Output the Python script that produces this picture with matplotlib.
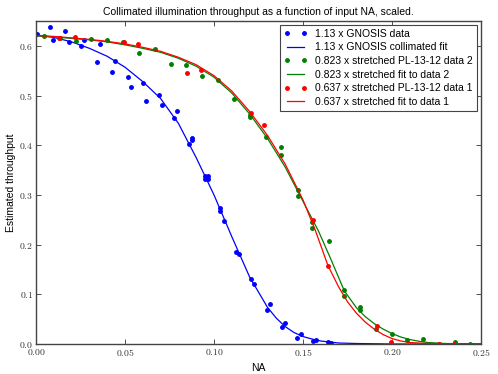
import matplotlib
matplotlib.use("Agg")
import matplotlib.pyplot as plt

# 1.13 x GNOSIS data (blue)
gnosis_na = [0.0007, 0.0079, 0.0096, 0.0165, 0.0184, 0.0253, 0.0271, 0.0341, 0.0358,
             0.0427, 0.0446, 0.0515, 0.0532, 0.0601, 0.0618, 0.0689, 0.0706, 0.0774,
             0.0792, 0.0861, 0.0878, 0.0878, 0.0949, 0.0966, 0.0949, 0.0966, 0.1036,
             0.1036, 0.1054, 0.1124, 0.1140, 0.1208, 0.1225, 0.1296, 0.1313, 0.1384,
             0.1401, 0.1468, 0.1487, 0.1556, 0.1573, 0.1640, 0.1660]
gnosis_tp = [0.624, 0.637, 0.611, 0.629, 0.608, 0.600, 0.611, 0.568, 0.603,
             0.547, 0.569, 0.537, 0.518, 0.525, 0.490, 0.502, 0.481, 0.455,
             0.468, 0.403, 0.414, 0.410, 0.339, 0.339, 0.333, 0.333, 0.273,
             0.267, 0.247, 0.186, 0.181, 0.130, 0.120, 0.069, 0.081, 0.035,
             0.043, 0.012, 0.020, 0.007, 0.009, 0.005, 0.003]

# 1.13 x GNOSIS collimated fit
gnosis_fit_na = [0.0, 0.01, 0.02, 0.03, 0.04, 0.05, 0.06, 0.07, 0.08, 0.09, 0.10,
                 0.11, 0.12, 0.13, 0.135, 0.14, 0.145, 0.15, 0.155, 0.16, 0.17,
                 0.18, 0.20, 0.25]
gnosis_fit_tp = [0.622, 0.617, 0.608, 0.595, 0.579, 0.557, 0.528, 0.494, 0.444,
                 0.375, 0.300, 0.216, 0.135, 0.074, 0.052, 0.035, 0.023, 0.015,
                 0.010, 0.006, 0.002, 0.001, 0.0, 0.0]

# 0.823 x stretched PL-13-12 data 2 (green)
pl2_na = [0.0045, 0.0133, 0.0225, 0.0309, 0.0400, 0.0489, 0.0581, 0.0666, 0.0757,
          0.0844, 0.0935, 0.1020, 0.1112, 0.1200, 0.1200, 0.1290, 0.1376, 0.1376,
          0.1470, 0.1470, 0.1550, 0.1550, 0.1647, 0.1732, 0.1732, 0.1822, 0.1822,
          0.1910, 0.2001, 0.2085, 0.2176, 0.2262, 0.2354, 0.2438]
pl2_tp = [0.620, 0.615, 0.610, 0.614, 0.611, 0.607, 0.586, 0.593, 0.564,
          0.561, 0.539, 0.532, 0.494, 0.461, 0.457, 0.416, 0.396, 0.381,
          0.309, 0.297, 0.246, 0.234, 0.208, 0.109, 0.097, 0.075, 0.068,
          0.031, 0.021, 0.008, 0.010, 0.001, 0.005, 0.000]

# 0.823 x stretched fit to data 2
pl2_fit_na = [0.0, 0.01, 0.02, 0.03, 0.04, 0.05, 0.06, 0.07, 0.08, 0.09, 0.10,
              0.11, 0.12, 0.13, 0.14, 0.15, 0.1586, 0.165, 0.17, 0.1732, 0.18,
              0.185, 0.19, 0.195, 0.20, 0.205, 0.21, 0.216, 0.22, 0.23, 0.25]
pl2_fit_tp = [0.620, 0.618, 0.615, 0.612, 0.608, 0.602, 0.595, 0.587, 0.575,
              0.559, 0.537, 0.505, 0.463, 0.414, 0.356, 0.287, 0.228, 0.176,
              0.134, 0.107, 0.073, 0.055, 0.041, 0.030, 0.021, 0.014, 0.009,
              0.005, 0.003, 0.001, 0.0]

# 0.637 x stretched PL-13-12 data 1 (red)
pl1_na = [0.0131, 0.0219, 0.0492, 0.0571, 0.0850, 0.0927, 0.1206, 0.1280, 0.1558,
          0.1639, 0.1916, 0.1994, 0.2266, 0.2348]
pl1_tp = [0.615, 0.617, 0.607, 0.603, 0.545, 0.552, 0.465, 0.440, 0.249,
          0.156, 0.037, 0.005, 0.001, 0.000]

# 0.637 x stretched fit to data 1
pl1_fit_na = [0.0, 0.01, 0.02, 0.03, 0.04, 0.05, 0.06, 0.07, 0.08, 0.09, 0.10,
              0.11, 0.12, 0.13, 0.14, 0.15, 0.157, 0.164, 0.17, 0.175, 0.18,
              0.185, 0.19, 0.195, 0.20, 0.205, 0.21, 0.22, 0.25]
pl1_fit_tp = [0.621, 0.619, 0.616, 0.613, 0.609, 0.604, 0.597, 0.589, 0.577,
              0.562, 0.540, 0.509, 0.468, 0.420, 0.362, 0.290, 0.228, 0.158,
              0.115, 0.085, 0.062, 0.044, 0.030, 0.019, 0.011, 0.006, 0.003,
              0.001, 0.0]

x_ticks = [0.00, 0.05, 0.10, 0.15, 0.20, 0.25]
y_ticks = [0.0, 0.1, 0.2, 0.3, 0.4, 0.5, 0.6]

plt.rcParams['font.family'] = ['Liberation Sans', 'DejaVu Sans']
plt.rcParams['mathtext.fontset'] = 'cm'
plt.rcParams['xtick.direction'] = 'in'
plt.rcParams['ytick.direction'] = 'in'
plt.rcParams['xtick.top'] = True
plt.rcParams['ytick.right'] = True

fig = plt.figure(figsize=(4.98, 3.74), dpi=100)
ax = fig.add_axes([36 / 498, 30 / 374, 445 / 498, 323 / 374])

blue, green, red = (0, 0, 1), (0, 0.5, 0), (1, 0, 0)
ax.plot(gnosis_na, gnosis_tp, '.', color=blue, ms=5, label="1.13 x GNOSIS data")
ax.plot(gnosis_fit_na, gnosis_fit_tp, '-', color=blue, lw=0.9,
        label="1.13 x GNOSIS collimated fit")
ax.plot(pl2_na, pl2_tp, '.', color=green, ms=5,
        label="0.823 x stretched PL-13-12 data 2")
ax.plot(pl2_fit_na, pl2_fit_tp, '-', color=green, lw=0.9,
        label="0.823 x stretched fit to data 2")
ax.plot(pl1_na, pl1_tp, '.', color=red, ms=5,
        label="0.637 x stretched PL-13-12 data 1")
ax.plot(pl1_fit_na, pl1_fit_tp, '-', color=red, lw=0.9,
        label="0.637 x stretched fit to data 1")

ax.set_xlim(0, 0.25)
ax.set_ylim(0, 0.65)
ax.set_xticks(x_ticks)
ax.set_xticklabels([f"${t:.2f}$" for t in x_ticks], fontsize=7)
ax.set_yticks(y_ticks)
ax.set_yticklabels([f"${t:.1f}$" for t in y_ticks], fontsize=7)
ax.tick_params(length=3.5, width=0.6, pad=2, colors='#333333')
for s in ax.spines.values():
    s.set_color('#444444')
    s.set_linewidth(1.0)

ax.set_title("Collimated illumination throughput as a function of input NA, scaled.",
             fontsize=7.5, pad=4)
ax.set_xlabel("NA", fontsize=7.5, labelpad=4)
ax.set_ylabel("Estimated throughput", fontsize=7.5, labelpad=2)

leg = ax.legend(loc='upper right', fontsize=7.5, numpoints=2, fancybox=False,
                framealpha=1, edgecolor='#444444', labelspacing=0.35,
                borderaxespad=0.35, handlelength=2.2)
leg.get_frame().set_linewidth(0.8)

fig.savefig("out.png", dpi=100)
